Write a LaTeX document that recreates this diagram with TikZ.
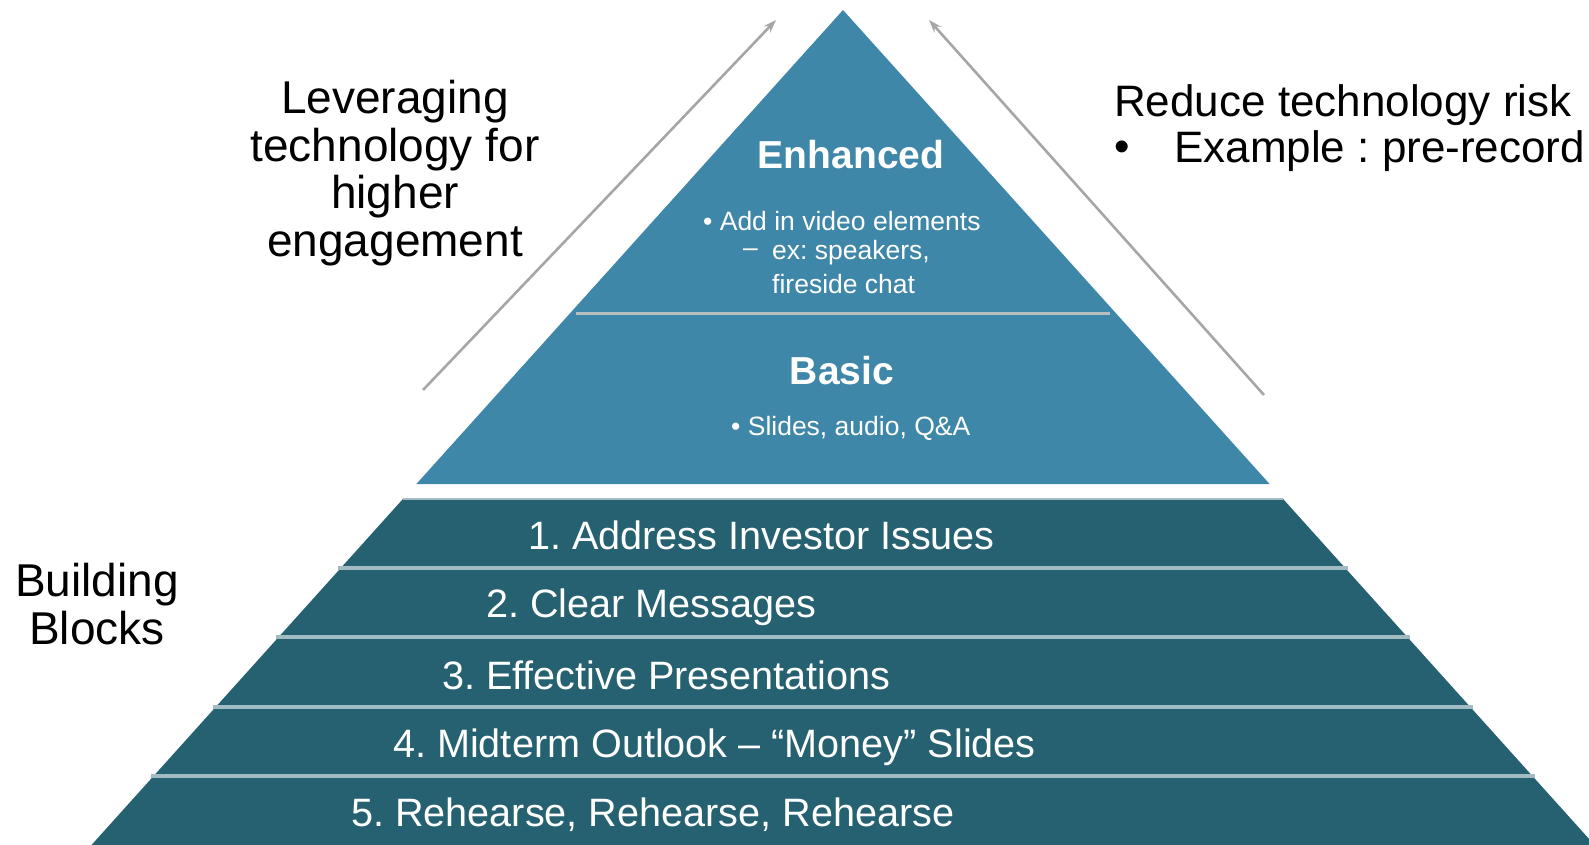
\documentclass[tikz,border=0pt]{standalone}
\usepackage{fontspec}
\setmainfont{Liberation Sans}
\usetikzlibrary{arrows.meta,calc}
\definecolor{tierblue}{HTML}{3F87A8}
\definecolor{blockteal}{HTML}{256170}
\definecolor{bandline}{HTML}{A3BCC3}
\definecolor{tierline}{HTML}{B6BEC2}
\definecolor{arrowgray}{HTML}{A6A6A6}
\tikzset{
  sidetext/.style={text=black, align=center, inner sep=0pt,
    font=\frenchspacing\fontsize{46}{47.5}\selectfont},
  risktext/.style={text=black, inner sep=0pt, anchor=west,
    font=\frenchspacing\fontsize{44}{47.5}\selectfont},
  tiertitle/.style={text=white, inner sep=0pt,
    font=\bfseries\fontsize{39}{44}\selectfont},
  tiernote/.style={text=white, inner sep=0pt, anchor=west,
    font=\frenchspacing\fontsize{26.5}{30}\selectfont},
  blocktext/.style={text=white, inner sep=0pt, anchor=west,
    font=\frenchspacing\fontsize{39.6}{44}\selectfont},
  trend/.style={draw=arrowgray, line width=2.6pt,
    -{Stealth[length=13pt,width=9pt]}},
}
\begin{document}
\begin{tikzpicture}[x=1pt,y=-1pt]
\useasboundingbox (0,0) rectangle (1589,844);
\clip (0,0) rectangle (1589,844);

% pyramid outline: apex and slope of the sides
\coordinate (apex) at (843,10);
\def\slope{0.9}

% upper tier (Basic / Enhanced)
\fill[tierblue] (apex) -- ({843-\slope*474},484) -- ({843+\slope*474},484) -- cycle;
\draw[tierline, line width=3pt] (576,313) -- (1110,313);

% building blocks trapezoid
\fill[blockteal] ({843-\slope*489},499) -- ({843+\slope*489},499)
  -- ({843+\slope*840},850) -- ({843-\slope*840},850) -- cycle;
\draw[bandline, line width=1.5pt] ({843-\slope*489},499) -- ({843+\slope*489},499);
\foreach \yy in {567.5,637,706.5,776}{
  \draw[bandline, line width=4pt]
    ({843-\slope*(\yy-10)-3},\yy) -- ({843+\slope*(\yy-10)+3},\yy);
}

% trend arrows
\coordinate (lfoot) at (423,390);
\coordinate (ltip) at (776,20);
\coordinate (rfoot) at (1264,395);
\coordinate (rtip) at (929,20);
\draw[trend] (lfoot) -- (ltip);
\draw[trend] (rfoot) -- (rtip);

% side labels
\node[sidetext] (lever) at (395,173) {Leveraging\\technology for\\higher\\engagement};
\node[risktext] (risk) at (1114,105) {Reduce technology risk};
\node[risktext] (riskdot) at (1114,151) {\textbullet};
\node[risktext] (riskex) at (1174,151) {Example : pre-record};
\node[sidetext] (blocks) at (97,604) {Building\\Blocks};

% upper tier texts
\node[tiertitle] (enh) at (851,155) {Enhanced};
\node[tiernote] (enh1) at (703,221) {\textbullet\ Add in video elements};
\node[tiernote] (enh2) at (743,253) {--};
\node[tiernote] (enh3) at (772,253) {ex: speakers,};
\node[tiernote] (enh4) at (772,284) {fireside chat};
\node[tiertitle] (basic) at (842,371) {Basic};
\node[tiernote] (basic1) at (731,428) {\textbullet\ Slides, audio, Q\&A};

% building blocks
\node[blocktext] (b1) at (528,535) {1. Address Investor Issues};
\node[blocktext] (b2) at (486,607) {2. Clear Messages};
\node[blocktext] (b3) at (442,675) {3. Effective Presentations};
\node[blocktext] (b4) at (393,747) {4. Midterm Outlook -- “Money” Slides};
\node[blocktext] (b5) at (351,815) {5. Rehearse, Rehearse, Rehearse};
\end{tikzpicture}
\end{document}
